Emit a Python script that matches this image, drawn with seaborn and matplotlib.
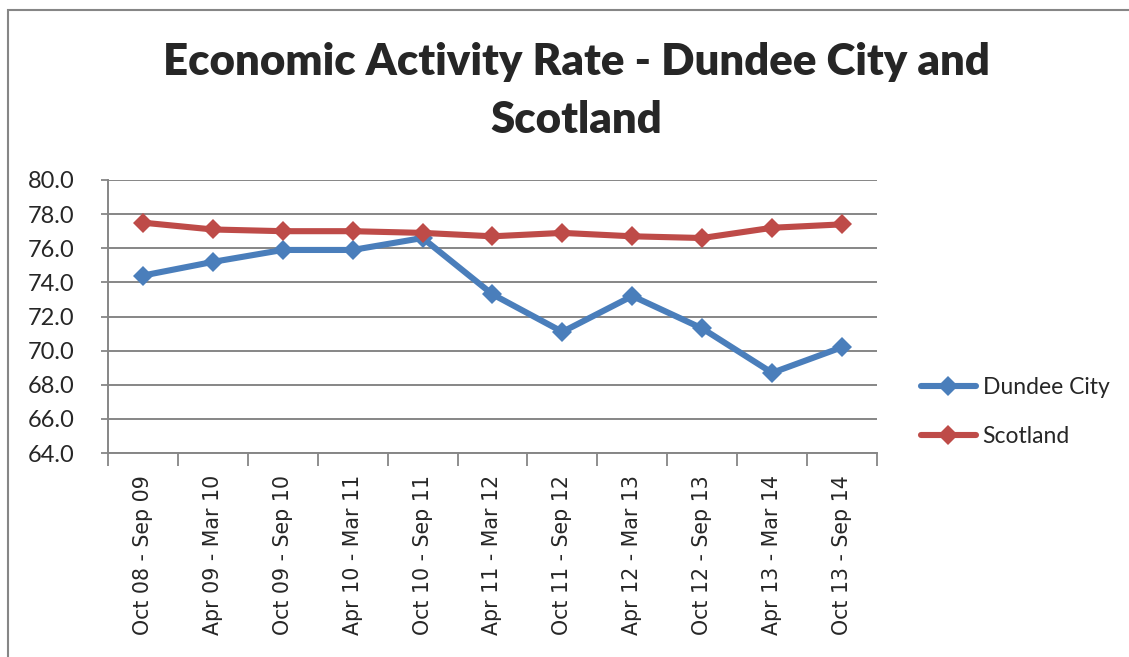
import numpy as np
import pandas as pd
import matplotlib
matplotlib.use("Agg")
import matplotlib.pyplot as plt
import seaborn as sns
from matplotlib.patches import Rectangle

# data
periods = ["Oct 08 - Sep 09", "Apr 09 - Mar 10", "Oct 09 - Sep 10", "Apr 10 - Mar 11",
           "Oct 10 - Sep 11", "Apr 11 - Mar 12", "Oct 11 - Sep 12", "Apr 12 - Mar 13",
           "Oct 12 - Sep 13", "Apr 13 - Mar 14", "Oct 13 - Sep 14"]
dundee = [74.4, 75.2, 75.9, 75.9, 76.6, 73.3, 71.1, 73.2, 71.3, 68.7, 70.2]
scotland = [77.5, 77.1, 77.0, 77.0, 76.9, 76.7, 76.9, 76.7, 76.6, 77.2, 77.4]
series_names = ["Dundee City", "Scotland"]
y_ticks = [64.0, 66.0, 68.0, 70.0, 72.0, 74.0, 76.0, 78.0, 80.0]

df = pd.DataFrame({
    "period": periods * 2,
    "rate": dundee + scotland,
    "area": [series_names[0]] * len(periods) + [series_names[1]] * len(periods),
})

sns.set_theme(style="white")
plt.rcParams["font.family"] = ["Lato", "DejaVu Sans"]

fig = plt.figure(figsize=(11.29, 6.57), dpi=100)
ax = fig.add_axes([108 / 1129, 1 - 453 / 657, (877 - 108) / 1129, (453 - 180) / 657])

palette = {"Dundee City": "#4A7EBB", "Scotland": "#BE4B48"}
sns.lineplot(data=df, x="period", y="rate", hue="area", palette=palette, marker="D",
             markersize=10.5, markeredgewidth=0, linewidth=4.4, sort=False, ax=ax)

ax.set_xlim(-0.5, len(periods) - 0.5)
ax.set_ylim(64, 80)
ax.set_yticks(y_ticks)
ax.set_yticklabels([f"{v:.1f}" for v in y_ticks], fontsize=17)
ax.yaxis.grid(True, color="#868686", linewidth=1.4)
ax.set_axisbelow(True)
ax.set_xlabel("")
ax.set_ylabel("")

ax.set_xticks(range(len(periods)))
ax.set_xticklabels(periods, rotation=90, fontsize=14.8, fontfamily="DejaVu Sans")
ax.set_xticks(np.arange(-0.5, len(periods), 1.0), minor=True)
ax.tick_params(axis="x", which="major", length=0, pad=16)
ax.tick_params(axis="x", which="minor", length=9, width=1.3, color="#868686", direction="out", bottom=True)
ax.tick_params(axis="y", length=5, width=1.3, color="#868686", direction="out", left=True, pad=19)

for side in ["top", "right"]:
    ax.spines[side].set_visible(False)
for side in ["left", "bottom"]:
    ax.spines[side].set_color("#868686")
    ax.spines[side].set_linewidth(1.4)

handles, labels = ax.get_legend_handles_labels()
ax.legend(handles, labels, loc="center left", bbox_to_anchor=(1.03, 0.15), frameon=False,
          fontsize=16.5, handlelength=2.4, labelspacing=1.2, handletextpad=0.3)

fig.text(576 / 1129, 1 - 91 / 657, "Economic Activity Rate - Dundee City and\nScotland",
         ha="center", va="center", fontsize=31.5, fontweight="heavy", linespacing=1.55)

# chart outer frame
fig.add_artist(Rectangle((8 / 1129, -0.05), 1.2, 1 - 10 / 657 + 0.05, transform=fig.transFigure,
                         fill=False, edgecolor="#868686", linewidth=1.5))

fig.savefig("out.png", dpi=100)
